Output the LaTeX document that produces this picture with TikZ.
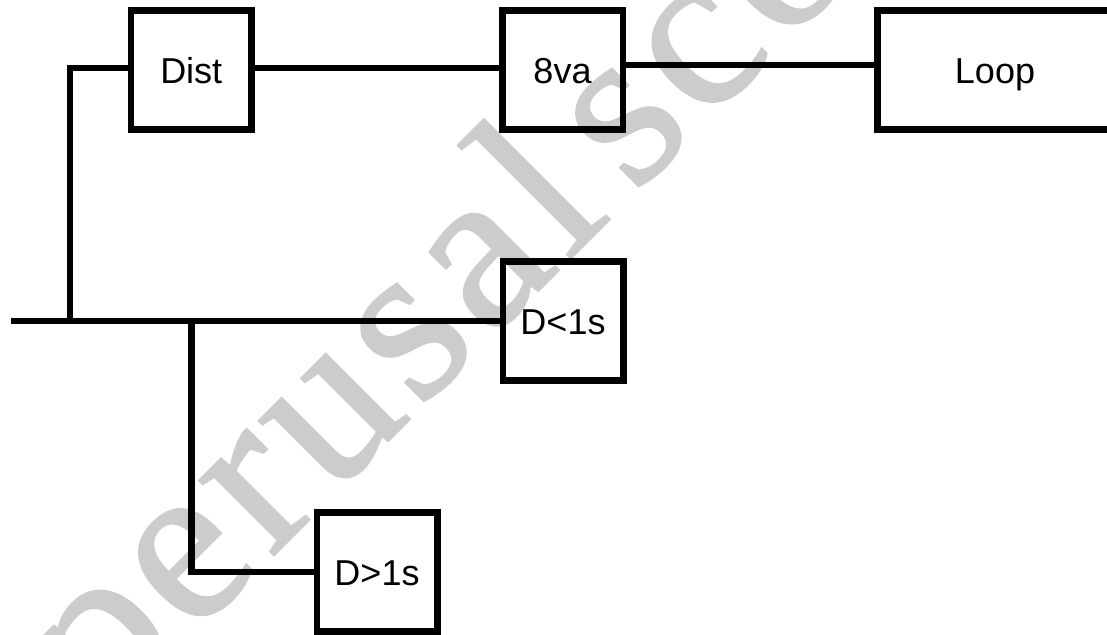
\documentclass[tikz,border=0pt]{standalone}
\usepackage{fontspec}
\setmainfont{Liberation Sans}
\newfontfamily\wmfont[LetterSpace=4,FakeBold=1]{Liberation Serif}
\definecolor{wmgray}{RGB}{204,204,204}
\tikzset{
  wire/.style={line width=6.5pt, line cap=butt, line join=miter},
  blockbox/.style={draw, line width=6.5pt, rectangle, minimum width=120.5pt,
    minimum height=119pt, inner sep=0pt, text height=26pt, text depth=0pt,
    font=\fontsize{36}{43}\selectfont},
  stamp/.style={text=wmgray, rotate=45, anchor=base west, inner sep=0pt,
    font=\wmfont\fontsize{230}{240}\selectfont}
}
\begin{document}
\begin{tikzpicture}[x=1pt, y=-1pt]
  \useasboundingbox (0,0) rectangle (1107,634);
  \clip (0,0) rectangle (1107,634);
  % background stamp
  \node[stamp] (wm) at (104,725) {perusal\hspace{30pt}score};
  % blocks
  \node[blockbox] (dist) at (191.25,70) {Dist};
  \node[blockbox] (va) at (562.5,70) {8va};
  \node[blockbox, minimum width=235pt] (loop) at (995,70) {Loop};
  \node[blockbox] (dlt) at (563,321) {D<1s};
  \node[blockbox] (dgt) at (377,572) {D>1s};
  % bus taps
  \coordinate (busL) at (11,321);
  \coordinate (busT) at (70,321);
  \coordinate (brT) at (191.5,321);
  % connectors
  \draw[wire] (busL) -- (dlt.west);
  \draw[wire] (busT) |- ([yshift=2pt]dist.west);
  \draw[wire] (brT) |- (dgt.west);
  \draw[wire] ([yshift=2pt]dist.east) -- ([yshift=2pt]va.west);
  \draw[wire] ([yshift=5pt]va.east) -- ([yshift=5pt]loop.west);
\end{tikzpicture}
\end{document}
